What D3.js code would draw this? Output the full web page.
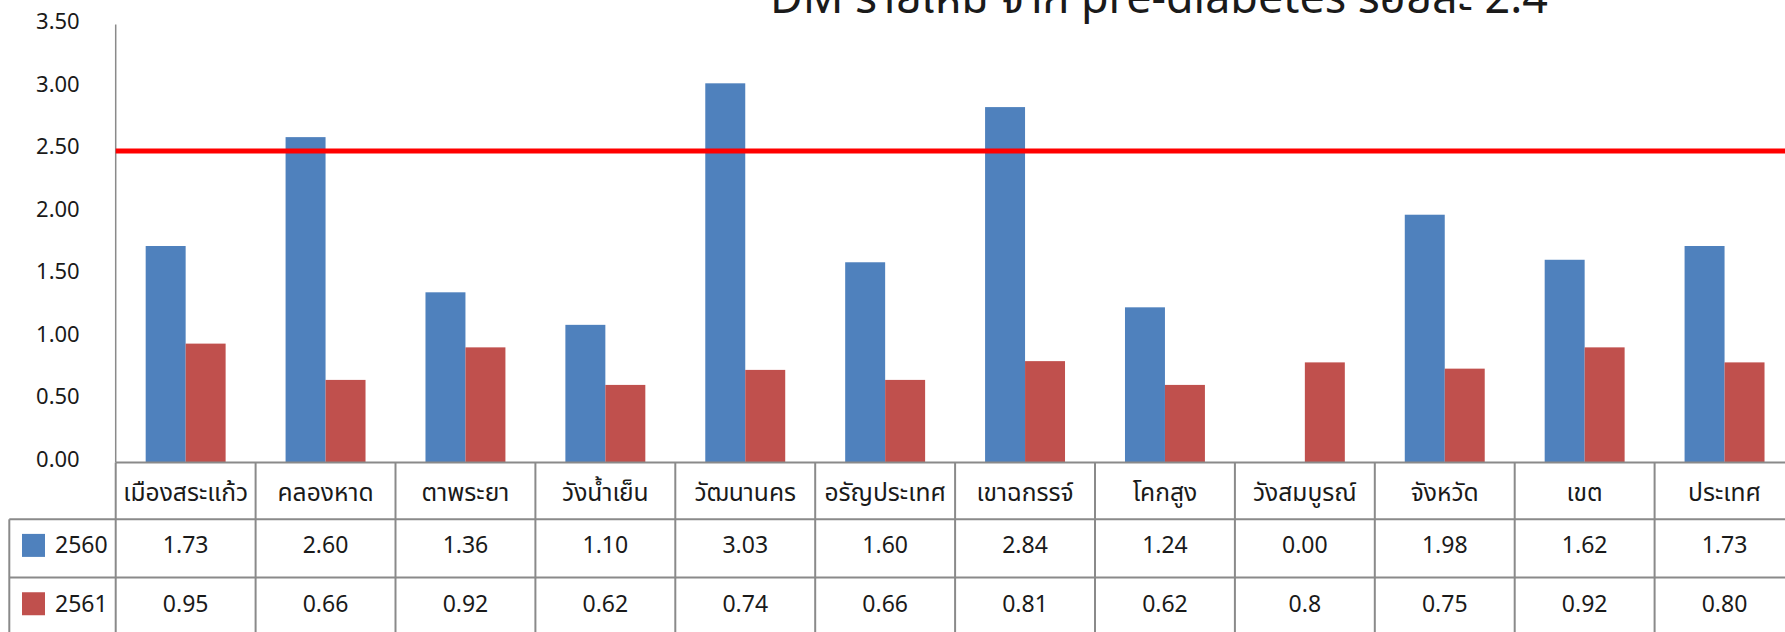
<!DOCTYPE html>
<html>
<head>
<meta charset="utf-8">
<script src="https://cdn.jsdelivr.net/npm/d3@7"></script>
<style>
  html, body { margin: 0; padding: 0; background: #fff; overflow: hidden; }
  svg { display: block; }
  text { font-family: "Noto Sans", "Noto Sans Thai", "Tahoma", sans-serif; fill: #1a1a1a; }
</style>
</head>
<body>
<svg id="chart" width="1785" height="632"></svg>
<script>
const categories = ["เมืองสระแก้ว", "คลองหาด", "ตาพระยา", "วังน้ำเย็น", "วัฒนานคร", "อรัญประเทศ", "เขาฉกรรจ์", "โคกสูง", "วังสมบูรณ์", "จังหวัด", "เขต", "ประเทศ"];
const seriesNames = ["2560", "2561"];
const values2560 = [1.73, 2.60, 1.36, 1.10, 3.03, 1.60, 2.84, 1.24, 0.00, 1.98, 1.62, 1.73];
const values2561 = [0.95, 0.66, 0.92, 0.62, 0.74, 0.66, 0.81, 0.62, 0.80, 0.75, 0.92, 0.80];
const labels2560 = ["1.73", "2.60", "1.36", "1.10", "3.03", "1.60", "2.84", "1.24", "0.00", "1.98", "1.62", "1.73"];
const labels2561 = ["0.95", "0.66", "0.92", "0.62", "0.74", "0.66", "0.81", "0.62", "0.8", "0.75", "0.92", "0.80"];
const yTicks = [0, 0.5, 1.0, 1.5, 2.0, 2.5, 3.0, 3.5];
const targetValue = 2.49;
const titleText = "DM รายใหม่ จาก pre-diabetes ร้อยละ 2.4";

const colors = {"2560": "#4F81BD", "2561": "#C0504D"};
const gridColor = "#8a8a8a";

const svg = d3.select("#chart");
const W = 1785, H = 632;

const plotLeft = 115.7, bandW = 139.9;
const plotTop = 24.5, plotBottom = 462.5;
const legendLeft = 9.3;
const rowTops = [462.5, 519.3, 577.5, 636];

const x = d3.scaleBand().domain(categories).range([plotLeft, plotLeft + bandW * categories.length]).padding(0);
const xInner = d3.scaleBand().domain(seriesNames).range([0, x.bandwidth()]).paddingInner(0).paddingOuter(0.75);
const y = d3.scaleLinear().domain([0, 3.5]).range([plotBottom, plotTop]);

// Title (top clipped as in reference)
const title = svg.append("text")
  .attr("x", 770).attr("y", 12.7)
  .style("font-size", "36px")
  .text(titleText);
const tl = title.node().getComputedTextLength();
title.style("font-size", (36 * 778 / tl) + "px");

// Y axis
const yAxis = d3.axisLeft(y).tickValues(yTicks).tickFormat(d3.format(".2f")).tickSize(0).tickPadding(36);
const gy = svg.append("g").attr("transform", `translate(${plotLeft},0)`).call(yAxis);
gy.select(".domain").remove();
gy.selectAll("text")
  .attr("dy", "0.32em")
  .attr("y", -3)
  .style("font-size", "22px")
  .style("font-family", '"Noto Sans", sans-serif')
  .attr("fill", "#1a1a1a");

svg.append("line")
  .attr("x1", plotLeft).attr("x2", plotLeft)
  .attr("y1", y(3.5)).attr("y2", plotBottom)
  .attr("stroke", gridColor).attr("stroke-width", 1.5);

// Bars
const rows = categories.map((c, i) => ({cat: c, "2560": values2560[i], "2561": values2561[i]}));
const groups = svg.append("g").selectAll("g").data(rows).join("g")
  .attr("transform", d => `translate(${x(d.cat)},0)`);
groups.selectAll("rect").data(d => seriesNames.map(s => ({s, v: d[s]}))).join("rect")
  .attr("x", d => xInner(d.s))
  .attr("width", xInner.bandwidth())
  .attr("y", d => y(d.v))
  .attr("height", d => plotBottom - y(d.v))
  .attr("fill", d => colors[d.s]);

// Target line
svg.append("line")
  .attr("x1", plotLeft).attr("x2", W)
  .attr("y1", y(targetValue)).attr("y2", y(targetValue))
  .attr("stroke", "#FF0000").attr("stroke-width", 5);

// Data table
const tbl = svg.append("g");
tbl.append("line").attr("x1", plotLeft).attr("x2", W).attr("y1", rowTops[0]).attr("y2", rowTops[0])
  .attr("stroke", gridColor).attr("stroke-width", 2);
[rowTops[1], rowTops[2]].forEach(yy => {
  tbl.append("line").attr("x1", legendLeft).attr("x2", W).attr("y1", yy).attr("y2", yy)
    .attr("stroke", gridColor).attr("stroke-width", 2);
});
const bounds = categories.map(c => x(c)).concat([x(categories[categories.length - 1]) + x.bandwidth()]);
bounds.forEach(bx => {
  tbl.append("line").attr("x1", bx).attr("x2", bx).attr("y1", rowTops[0]).attr("y2", H)
    .attr("stroke", gridColor).attr("stroke-width", 2);
});
tbl.append("line").attr("x1", legendLeft).attr("x2", legendLeft).attr("y1", rowTops[1]).attr("y2", H)
  .attr("stroke", gridColor).attr("stroke-width", 2);

// header labels
const heads = tbl.selectAll("text.cat").data(categories).join("text")
  .attr("class", "cat")
  .attr("x", d => x(d) + x.bandwidth() / 2)
  .attr("y", (rowTops[0] + rowTops[1]) / 2 + 1)
  .attr("dy", "0.35em")
  .attr("text-anchor", "middle")
  .style("font-size", "22px")
  .text(d => d);
// scale header font so the widest label nearly fills its cell, as in the reference
const widest = d3.max(heads.nodes(), n => n.getComputedTextLength());
heads.style("font-size", (22 * 125 / widest) + "px");

// value rows
const valueRows = [labels2560, labels2561];
valueRows.forEach((labs, r) => {
  const cy = (rowTops[r + 1] + rowTops[r + 2]) / 2 - 3;
  tbl.selectAll("text.v" + r).data(labs).join("text")
    .attr("class", "v" + r)
    .attr("x", (d, i) => x(categories[i]) + x.bandwidth() / 2)
    .attr("y", cy)
    .attr("dy", "0.35em")
    .attr("text-anchor", "middle")
    .style("font-size", "23px")
    .text(d => d);
  tbl.append("rect")
    .attr("x", 22).attr("y", cy - 11.5).attr("width", 23).attr("height", 23)
    .attr("fill", colors[seriesNames[r]]);
  tbl.append("text")
    .attr("x", 55).attr("y", cy).attr("dy", "0.35em")
    .style("font-size", "23px")
    .text(seriesNames[r]);
});
</script>
</body>
</html>
